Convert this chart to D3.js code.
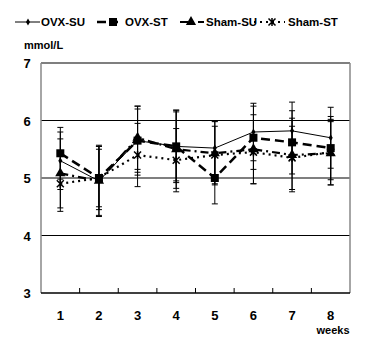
<!DOCTYPE html>
<html><head><meta charset="utf-8">
<script src="https://cdn.jsdelivr.net/npm/d3@7"></script>
<style>
body{margin:0;background:#fff;}
text{font-family:"Liberation Sans Narrow","Arial Narrow","Liberation Sans",sans-serif;font-weight:bold;}
</style></head><body>
<svg id="c" width="373" height="349"></svg>
<script>
const weeks = ["1","2","3","4","5","6","7","8"];
const yTicks = [3,4,5,6,7];
const seriesNames = ["OVX-SU","OVX-ST","Sham-SU","Sham-ST"];
const ovxSU  = [5.30,4.95,5.65,5.55,5.52,5.80,5.82,5.70];
const ovxST  = [5.43,5.00,5.65,5.55,5.00,5.70,5.62,5.52];
const shamSU = [5.08,4.95,5.70,5.50,5.43,5.50,5.40,5.43];
const shamST = [4.90,5.00,5.40,5.31,5.40,5.45,5.35,5.45];
const ovxSUerr  = [0.50,0.62,0.60,0.63,0.47,0.50,0.50,0.53];
const ovxSTerr  = [0.45,0.55,0.55,0.60,0.45,0.55,0.55,0.55];
const shamSUerr = [0.60,0.60,0.55,0.68,0.55,0.60,0.64,0.55];
const shamSTerr = [0.48,0.50,0.55,0.55,0.50,0.55,0.55,0.57];

const svg = d3.select("#c");
const x = d3.scaleBand().domain(weeks).range([41,350]);
const y = d3.scaleLinear().domain([3,7]).range([293,63]);
const cx = d => x(d) + x.bandwidth()/2;

svg.append("g").selectAll("line").data(yTicks.filter(v=>v>3)).join("line")
  .attr("x1",41).attr("x2",350).attr("y1",d=>y(d)).attr("y2",d=>y(d))
  .attr("stroke","#000").attr("stroke-width",1.2);
svg.append("line").attr("x1",41).attr("x2",41).attr("y1",y(7)).attr("y2",y(3)).attr("stroke","#888").attr("stroke-width",1.5);
svg.append("line").attr("x1",350).attr("x2",350).attr("y1",y(7)).attr("y2",y(3)).attr("stroke","#888").attr("stroke-width",1.5);
svg.append("line").attr("x1",41).attr("x2",350).attr("y1",y(3)).attr("y2",y(3)).attr("stroke","#000").attr("stroke-width",1.5);
svg.append("g").selectAll("line").data(weeks.slice(1)).join("line")
  .attr("x1",d=>x(d)).attr("x2",d=>x(d)).attr("y1",y(3)).attr("y2",y(3)-5)
  .attr("stroke","#000").attr("stroke-width",1);

svg.append("g").selectAll("text").data(yTicks).join("text")
  .attr("x",27).attr("y",d=>y(d)+5).attr("text-anchor","middle")
  .attr("font-size",13).text(d=>d);
svg.append("g").selectAll("text").data(weeks).join("text")
  .attr("x",d=>cx(d)).attr("y",320).attr("text-anchor","middle")
  .attr("font-size",13).text(d=>d);
svg.append("text").attr("x",333).attr("y",334).attr("text-anchor","middle").attr("font-size",11).text("weeks");
svg.append("text").attr("x",24).attr("y",49).attr("font-size",11).text("mmol/L");

const data = [
  {name:seriesNames[0], v:ovxSU, e:ovxSUerr, w:1, dash:null, marker:"diamond"},
  {name:seriesNames[1], v:ovxST, e:ovxSTerr, w:2.5, dash:"9,5", marker:"square"},
  {name:seriesNames[2], v:shamSU, e:shamSUerr, w:2.2, dash:"8,4,2,4", marker:"triangle"},
  {name:seriesNames[3], v:shamST, e:shamSTerr, w:2.2, dash:"2,4", marker:"x"}
];

data.forEach(s=>{
  const g = svg.append("g");
  weeks.forEach((w,i)=>{
    const xx = cx(w), hi = y(s.v[i]+s.e[i]), lo = y(s.v[i]-s.e[i]);
    g.append("line").attr("x1",xx).attr("x2",xx).attr("y1",hi).attr("y2",lo).attr("stroke","#000").attr("stroke-width",1);
    [hi,lo].forEach(yy=>g.append("line").attr("x1",xx-3).attr("x2",xx+3).attr("y1",yy).attr("y2",yy).attr("stroke","#000").attr("stroke-width",1));
  });
});

function drawMarker(g, type, xx, yy){
  if(type==="diamond") g.append("path").attr("d",d3.symbol(d3.symbolDiamond,14)()).attr("transform",`translate(${xx},${yy})`).attr("fill","#000");
  if(type==="square") g.append("rect").attr("x",xx-4).attr("y",yy-4).attr("width",8).attr("height",8).attr("fill","#000");
  if(type==="triangle") g.append("path").attr("d",d3.symbol(d3.symbolTriangle,45)()).attr("transform",`translate(${xx},${yy})`).attr("fill","#000");
  if(type==="x") g.append("path").attr("d",`M${xx-3.5},${yy-3.5}L${xx+3.5},${yy+3.5}M${xx-3.5},${yy+3.5}L${xx+3.5},${yy-3.5}M${xx},${yy-4}L${xx},${yy+4}`).attr("stroke","#000").attr("stroke-width",1.5);
}

const line = d3.line().x((d,i)=>cx(weeks[i])).y(d=>y(d));
data.forEach(s=>{
  const g = svg.append("g");
  g.append("path").attr("d",line(s.v)).attr("fill","none").attr("stroke","#000")
    .attr("stroke-width",s.w).attr("stroke-dasharray",s.dash);
  s.v.forEach((v,i)=>drawMarker(g,s.marker,cx(weeks[i]),y(v)));
});

// legend
const legLine = [[15,40],[97,118],[180,204],[254,285]];
const legMark = [28,113,191,272];
const legText = [41,125,206,288];
const lg = svg.append("g");
data.forEach((s,i)=>{
  const yy = 22;
  lg.append("line").attr("x1",legLine[i][0]).attr("x2",legLine[i][1]).attr("y1",yy).attr("y2",yy)
    .attr("stroke","#000").attr("stroke-width",s.w).attr("stroke-dasharray",s.dash);
  drawMarker(lg,s.marker,legMark[i],yy);
  lg.append("text").attr("x",legText[i]).attr("y",yy+4).attr("font-size",11.5).text(s.name);
});
</script></body></html>
